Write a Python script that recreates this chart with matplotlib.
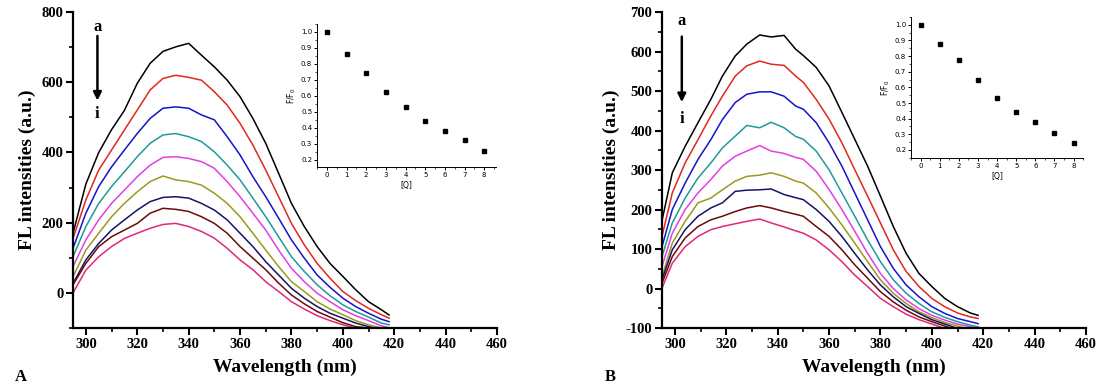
import matplotlib
matplotlib.use("Agg")
import matplotlib.pyplot as plt
from matplotlib.ticker import MultipleLocator, FormatStrFormatter

plt.rcParams["axes.unicode_minus"] = False

# ---- data ----
curve_labels = ["a", "b", "c", "d", "e", "f", "g", "h", "i"]
curve_colors = ["#000000", "#e0281e", "#1414c8", "#1f9a9a", "#e23ee2",
                "#9a9a1e", "#141466", "#6a0a0a", "#e0287a"]

wl_A = [295, 300, 305, 310, 315, 320, 325, 330, 335, 340, 345, 350, 355,
        360, 365, 370, 375, 380, 385, 390, 395, 400, 405, 410, 415, 418]
fl_A = [
    [170, 310, 400, 465, 520, 597, 654, 688, 701, 711, 677, 644, 606, 559, 497, 426, 341, 255, 189, 132, 84, 47, 9, -25, -48, -63],
    [155, 265, 350, 407, 464, 521, 578, 611, 620, 614, 606, 573, 535, 483, 421, 350, 274, 198, 137, 84, 42, 4, -22, -44, -62, -72],
    [127, 227, 303, 359, 407, 454, 497, 526, 530, 526, 507, 493, 445, 393, 331, 274, 213, 151, 99, 51, 16, -15, -39, -58, -75, -82],
    [103, 189, 255, 303, 345, 388, 426, 450, 454, 445, 431, 402, 364, 322, 270, 217, 160, 103, 61, 23, -8, -34, -53, -69, -86, -91],
    [75, 151, 208, 255, 293, 331, 364, 386, 388, 383, 374, 355, 317, 274, 227, 179, 122, 70, 32, -1, -25, -48, -65, -79, -94, -99],
    [46, 122, 170, 217, 255, 288, 317, 333, 322, 317, 307, 284, 255, 217, 170, 122, 75, 32, 4, -25, -46, -62, -79, -91, -100, -105],
    [27, 94, 141, 179, 208, 236, 260, 272, 274, 270, 255, 236, 208, 170, 132, 89, 51, 13, -15, -39, -58, -72, -86, -96, -105, -110],
    [23, 84, 132, 160, 179, 198, 227, 241, 238, 232, 217, 198, 170, 132, 99, 66, 28, -6, -31, -53, -69, -85, -96, -100, -108, -112],
    [0, 65, 103, 132, 155, 170, 184, 195, 198, 189, 175, 156, 127, 94, 66, 32, 4, -25, -46, -65, -79, -91, -100, -105, -110, -115],
]

wl_B = [295, 299, 304, 309, 314, 318.5, 323.5, 328, 333, 337.5, 342.5, 347,
        350, 355, 360, 365, 370, 375, 380, 385, 390, 395, 400, 405, 410, 415, 418]
fl_B = [
    [172, 293, 360, 420, 479, 538, 589, 619, 642, 637, 641, 606, 590, 560, 513, 446, 378, 310, 234, 157, 89, 38, 5, -25, -46, -62, -68],
    [132, 242, 318, 377, 437, 487, 538, 564, 576, 568, 565, 538, 522, 479, 429, 369, 301, 234, 166, 98, 43, 5, -25, -46, -62, -72, -76],
    [106, 200, 267, 327, 377, 428, 471, 492, 498, 498, 487, 462, 454, 420, 369, 310, 242, 174, 106, 51, 9, -21, -46, -63, -76, -84, -89],
    [81, 166, 229, 280, 318, 356, 386, 413, 407, 421, 407, 385, 378, 348, 301, 242, 183, 123, 68, 22, -12, -38, -59, -73, -84, -93, -97],
    [56, 140, 200, 242, 276, 310, 335, 348, 362, 348, 342, 332, 327, 297, 251, 200, 145, 89, 38, 0, -29, -51, -68, -80, -90, -97, -101],
    [30, 115, 170, 217, 229, 250, 272, 284, 287, 293, 284, 272, 267, 242, 204, 161, 115, 68, 22, -12, -38, -59, -74, -86, -95, -104, -108],
    [22, 98, 149, 183, 204, 217, 246, 249, 250, 252, 238, 230, 225, 200, 170, 132, 89, 47, 9, -21, -46, -63, -79, -90, -101, -110, -114],
    [13, 81, 128, 157, 174, 183, 195, 204, 210, 204, 195, 188, 183, 157, 132, 98, 60, 26, -8, -34, -55, -72, -84, -95, -106, -115, -118],
    [1, 64, 106, 132, 149, 157, 164, 170, 176, 166, 156, 146, 140, 123, 98, 68, 34, 5, -25, -46, -65, -79, -90, -101, -110, -118, -122],
]

conc = [0, 1, 2, 3, 4, 5, 6, 7, 8]
ratio_A = [1.0, 0.865, 0.745, 0.625, 0.53, 0.445, 0.378, 0.325, 0.255]
ratio_B = [1.0, 0.88, 0.775, 0.645, 0.535, 0.44, 0.38, 0.31, 0.245]

serif = "Liberation Serif"


def style_main(ax, ymax, ymajor, yminor):
    ax.set_xlim(295, 460)
    ax.set_ylim(-100, ymax)
    for s in ["top", "right"]:
        ax.spines[s].set_visible(False)
    for s in ["left", "bottom"]:
        ax.spines[s].set_linewidth(1.6)
    ax.xaxis.set_major_locator(MultipleLocator(20))
    ax.xaxis.set_minor_locator(MultipleLocator(10))
    ax.yaxis.set_major_locator(MultipleLocator(ymajor))
    ax.yaxis.set_minor_locator(MultipleLocator(yminor))
    ax.tick_params(which="major", direction="out", length=5, width=1.5, labelsize=10.5, pad=2)
    ax.tick_params(which="minor", direction="out", length=3, width=1.2)
    for lab in ax.get_xticklabels() + ax.get_yticklabels():
        lab.set_fontfamily(serif)
        lab.set_fontweight("bold")
    ax.set_xlabel("Wavelength (nm)", fontfamily=serif, fontweight="bold", fontsize=14, labelpad=6)
    ax.set_ylabel("FL intensities (a.u.)", fontfamily=serif, fontweight="bold", fontsize=14, labelpad=4)


def style_inset(ax, ratio, xmax, ymin):
    ax.plot(conc, ratio, "s", color="black", markersize=2.6)
    ax.set_xlim(-0.5, xmax)
    ax.set_ylim(ymin, 1.05)
    for s in ["top", "right"]:
        ax.spines[s].set_visible(False)
    for s in ["left", "bottom"]:
        ax.spines[s].set_linewidth(0.7)
    ax.xaxis.set_major_locator(MultipleLocator(1))
    ax.xaxis.set_minor_locator(MultipleLocator(0.5))
    ax.yaxis.set_minor_locator(MultipleLocator(0.05))
    ax.yaxis.set_major_formatter(FormatStrFormatter("%.1f"))
    ax.set_yticks([0.2, 0.3, 0.4, 0.5, 0.6, 0.7, 0.8, 0.9, 1.0])
    ax.tick_params(which="major", direction="out", length=2, width=0.7, labelsize=5, pad=1.5)
    ax.tick_params(which="minor", direction="out", length=1.2, width=0.5)
    ax.set_xlabel("[Q]", fontsize=5.5, labelpad=2)
    ax.set_ylabel("F/F$_0$", fontsize=5.5, labelpad=2)
    ax.patch.set_alpha(0)


fig = plt.figure(figsize=(11.03, 3.9), dpi=100)

axA = fig.add_axes([0.0662, 0.159, 0.3844, 0.810])
for vals, c in zip(fl_A, curve_colors):
    axA.plot(wl_A, vals, color=c, lw=1.1)
style_main(axA, 800, 200, 100)
axA.annotate("", xy=(304.5, 540), xytext=(304.5, 740),
             arrowprops=dict(arrowstyle="-|>", lw=1.8, color="black", mutation_scale=12))
axA.text(304.5, 757, "a", ha="center", va="center", fontfamily=serif, fontweight="bold", fontsize=12)
axA.text(304.5, 510, "i", ha="center", va="center", fontfamily=serif, fontweight="bold", fontsize=12)

axB = fig.add_axes([0.6002, 0.159, 0.3844, 0.810])
for vals, c in zip(fl_B, curve_colors):
    axB.plot(wl_B, vals, color=c, lw=1.1)
style_main(axB, 700, 100, 50)
axB.annotate("", xy=(302.7, 465), xytext=(302.7, 645),
             arrowprops=dict(arrowstyle="-|>", lw=1.8, color="black", mutation_scale=12))
axB.text(302.7, 678, "a", ha="center", va="center", fontfamily=serif, fontweight="bold", fontsize=12)
axB.text(302.7, 430, "i", ha="center", va="center", fontfamily=serif, fontweight="bold", fontsize=12)

insA = fig.add_axes([0.2874, 0.5718, 0.1623, 0.3667])
style_inset(insA, ratio_A, 8.6, 0.155)

insB = fig.add_axes([0.826, 0.595, 0.156, 0.3615])
style_inset(insB, ratio_B, 8.5, 0.149)

fig.text(15 / 1103, 1 - 377 / 390, "A", fontfamily=serif, fontweight="bold", fontsize=12, va="center")
fig.text(605 / 1103, 1 - 377 / 390, "B", fontfamily=serif, fontweight="bold", fontsize=12, va="center")

fig.savefig("out.png", dpi=100)
